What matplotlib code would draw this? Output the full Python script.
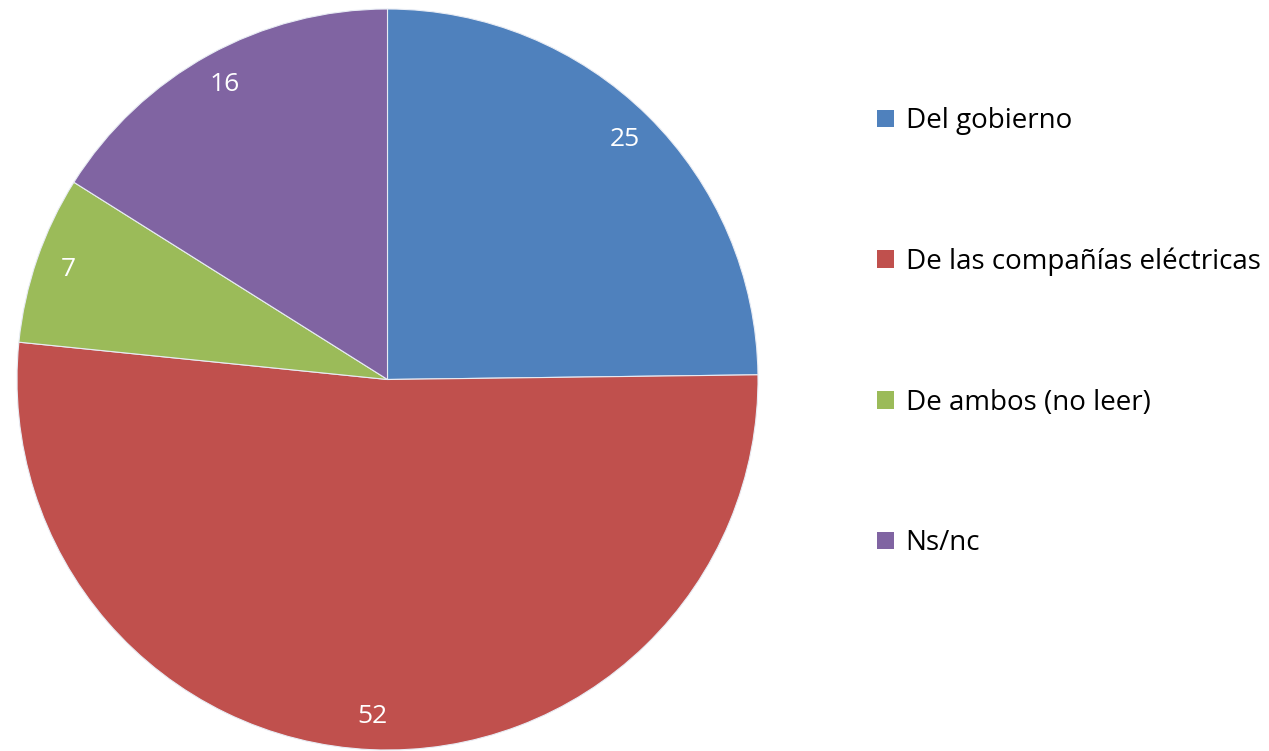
import matplotlib.pyplot as plt
from matplotlib.patches import Patch

plt.rcParams['font.family'] = ['Open Sans', 'DejaVu Sans']

categories = ['Del gobierno', 'De las compañías eléctricas', 'De ambos (no leer)', 'Ns/nc']
shares = [24.7, 51.6, 7.3, 16.0]
value_labels = ['25', '52', '7', '16']
colors = ['#4F81BD', '#C0504D', '#9BBB59', '#8064A2']

fig = plt.figure(figsize=(12.69, 7.51), dpi=100)
ax = fig.add_axes([17 / 1269, 1 / 751, 741 / 1269, 741 / 751])

wedges, texts = ax.pie(shares, labels=value_labels, colors=colors, startangle=90,
                       counterclock=False, labeldistance=0.91, radius=1,
                       wedgeprops=dict(edgecolor='#e8ecf4', linewidth=0.8))
for t in texts:
    t.set_color('white')
    t.set_fontsize(19)
    t.set_ha('center')
    t.set_va('center')
ax.set_xlim(-1, 1)
ax.set_ylim(-1, 1)
ax.set_aspect('equal')

handles = [Patch(facecolor=c, edgecolor='none') for c in colors]
fig.legend(handles, categories, loc='upper left', bbox_to_anchor=(866 / 1269, 1 - 96 / 751),
           frameon=False, fontsize=20, handlelength=0.6, handleheight=0.6,
           handletextpad=0.43, labelspacing=4.05, borderaxespad=0)

fig.savefig('out.png', dpi=100)
